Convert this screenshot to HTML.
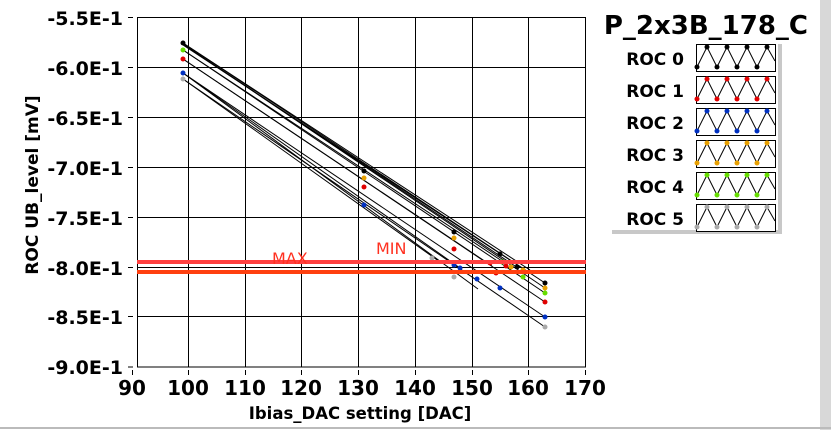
<!DOCTYPE html>
<html><head><meta charset="utf-8"><style>body{margin:0;background:#fff}svg{display:block}</style></head><body>
<svg width="831" height="430" viewBox="0 0 831 430" xmlns="http://www.w3.org/2000/svg" font-family="DejaVu Sans, Liberation Sans, sans-serif">
<rect width="831" height="430" fill="#fff"/>
<rect x="820" y="0" width="11" height="430" fill="#d8d8d8"/>
<line x1="0" y1="428" x2="831" y2="428" stroke="#bbb" stroke-width="2"/>
<g stroke="#000" stroke-width="1">
<line x1="188.5" y1="17" x2="188.5" y2="367"/><line x1="245.5" y1="17" x2="245.5" y2="367"/>
<line x1="301.5" y1="17" x2="301.5" y2="367"/><line x1="358.5" y1="17" x2="358.5" y2="367"/>
<line x1="415.5" y1="17" x2="415.5" y2="367"/><line x1="472.5" y1="17" x2="472.5" y2="367"/>
<line x1="528.5" y1="17" x2="528.5" y2="367"/>
<line x1="137" y1="67.5" x2="586" y2="67.5"/><line x1="137" y1="117.5" x2="586" y2="117.5"/>
<line x1="137" y1="167.5" x2="586" y2="167.5"/><line x1="137" y1="217.5" x2="586" y2="217.5"/>
<line x1="137" y1="267.5" x2="586" y2="267.5"/><line x1="137" y1="316.5" x2="586" y2="316.5"/>
</g>
<rect x="137.5" y="17.5" width="448" height="349.5" fill="none" stroke="#000"/>
<g stroke="#000">
<line x1="128" y1="17.5" x2="133" y2="17.5"/><line x1="128" y1="67.5" x2="133" y2="67.5"/><line x1="128" y1="117.5" x2="133" y2="117.5"/><line x1="128" y1="167.5" x2="133" y2="167.5"/><line x1="128" y1="217.5" x2="133" y2="217.5"/><line x1="128" y1="267.5" x2="133" y2="267.5"/><line x1="128" y1="316.5" x2="133" y2="316.5"/><line x1="128" y1="367" x2="133" y2="367"/>
<line x1="132.5" y1="370" x2="132.5" y2="375"/><line x1="188.5" y1="370" x2="188.5" y2="375"/><line x1="245.5" y1="370" x2="245.5" y2="375"/><line x1="301.5" y1="370" x2="301.5" y2="375"/><line x1="358.5" y1="370" x2="358.5" y2="375"/><line x1="415.5" y1="370" x2="415.5" y2="375"/><line x1="472.5" y1="370" x2="472.5" y2="375"/><line x1="528.5" y1="370" x2="528.5" y2="375"/><line x1="585.5" y1="370" x2="585.5" y2="375"/>
</g>
<g font-size="19" font-weight="bold" text-anchor="end">
<text x="123" y="25">-5.5E-1</text><text x="123" y="75">-6.0E-1</text><text x="123" y="125">-6.5E-1</text><text x="123" y="175">-7.0E-1</text><text x="123" y="225">-7.5E-1</text><text x="123" y="275">-8.0E-1</text><text x="123" y="324">-8.5E-1</text><text x="123" y="374">-9.0E-1</text>
</g>
<g font-size="20" font-weight="bold" text-anchor="middle">
<text x="132" y="395">90</text><text x="188" y="395">100</text><text x="245" y="395">110</text><text x="301" y="395">120</text><text x="358" y="395">130</text><text x="415" y="395">140</text><text x="472" y="395">150</text><text x="528" y="395">160</text><text x="585" y="395">170</text>
</g>
<text x="360" y="419" font-size="16.5" font-weight="bold" text-anchor="middle">Ibias_DAC setting [DAC]</text>
<text transform="translate(38,185) rotate(-90)" font-size="17" font-weight="bold" text-anchor="middle">ROC UB_level [mV]</text>
<g stroke="#000" stroke-width="1">
<line x1="183" y1="43" x2="545" y2="283"/><line x1="183" y1="44" x2="545" y2="288"/>
<line x1="183" y1="50" x2="545" y2="293"/><line x1="183" y1="59" x2="545" y2="302"/>
<line x1="183" y1="73" x2="545" y2="317"/><line x1="183" y1="79" x2="545" y2="327"/>
<line x1="183" y1="43" x2="530" y2="270"/><line x1="183" y1="45" x2="522" y2="268"/>
<line x1="183" y1="50" x2="505" y2="263"/><line x1="183" y1="59" x2="492" y2="266"/>
<line x1="183" y1="73" x2="478" y2="289"/><line x1="183" y1="73" x2="460" y2="268"/>
<line x1="183" y1="79" x2="440" y2="262"/><line x1="183" y1="44" x2="515" y2="266"/>
</g>
<g>
<circle cx="183" cy="43" r="2.5" fill="#000"/>
<circle cx="183" cy="50" r="2.5" fill="#66dd00"/><circle cx="183" cy="59" r="2.5" fill="#e00000"/>
<circle cx="183" cy="73" r="2.5" fill="#0030c0"/><circle cx="183" cy="79" r="2.5" fill="#aaa"/>
<circle cx="364" cy="171" r="2.5" fill="#000"/><circle cx="364" cy="178" r="2.5" fill="#e8a000"/>
<circle cx="364" cy="187" r="2.5" fill="#e00000"/><circle cx="364" cy="205" r="2.5" fill="#0030c0"/>
<circle cx="454" cy="232" r="2.5" fill="#000"/><circle cx="454" cy="238" r="2.5" fill="#e8a000"/>
<circle cx="454" cy="249" r="2.5" fill="#e00000"/><circle cx="454" cy="265" r="2.5" fill="#0030c0"/>
<circle cx="454" cy="277" r="2.5" fill="#aaa"/><circle cx="432" cy="258" r="2.5" fill="#aaa"/>
<circle cx="460" cy="268" r="2.5" fill="#0030c0"/><circle cx="477" cy="279" r="2.5" fill="#0030c0"/>
<circle cx="500" cy="288" r="2.5" fill="#0030c0"/><circle cx="490" cy="263" r="2.5" fill="#e00000"/>
<circle cx="500" cy="254" r="2.5" fill="#000"/><circle cx="506" cy="266" r="2.5" fill="#e00000"/>
<circle cx="502" cy="262" r="2.5" fill="#66dd00"/><circle cx="511" cy="267" r="2.5" fill="#e8a000"/>
<circle cx="517" cy="267" r="2.5" fill="#000"/><circle cx="523" cy="270" r="2.5" fill="#e8a000"/>
<circle cx="523" cy="277" r="2.5" fill="#66dd00"/><circle cx="496" cy="273" r="2.5" fill="#e00000"/>
<circle cx="545" cy="283" r="2.5" fill="#000"/><circle cx="545" cy="288" r="2.5" fill="#e8a000"/>
<circle cx="545" cy="293" r="2.5" fill="#66dd00"/><circle cx="545" cy="302" r="2.5" fill="#e00000"/>
<circle cx="545" cy="317" r="2.5" fill="#0030c0"/><circle cx="545" cy="327" r="2.5" fill="#aaa"/>
</g>
<rect x="137" y="260" width="449" height="4" fill="#ff4040"/>
<rect x="137" y="270" width="449" height="4" fill="#ff4010"/>
<text x="272" y="264" font-size="16" fill="#ff3020">MAX</text>
<text x="376" y="254" font-size="16" fill="#ff3020">MIN</text>
<text x="808" y="34" font-size="26" font-weight="bold" text-anchor="end">P_2x3B_178_C</text>
<rect x="612" y="44" width="170" height="190" fill="#c8c8c8"/>
<rect x="608" y="40" width="170" height="190" fill="#fff"/>
<g font-size="17" font-weight="bold" text-anchor="end">
<text x="684" y="65">ROC 0</text><text x="684" y="97">ROC 1</text><text x="684" y="129">ROC 2</text><text x="684" y="161">ROC 3</text><text x="684" y="193">ROC 4</text><text x="684" y="225">ROC 5</text>
</g>
<g stroke="#000" fill="#fff">
<rect x="696.5" y="44.5" width="79" height="27"/><rect x="696.5" y="76.5" width="79" height="27"/><rect x="696.5" y="108.5" width="79" height="27"/><rect x="696.5" y="140.5" width="79" height="27"/><rect x="696.5" y="172.5" width="79" height="27"/><rect x="696.5" y="204.5" width="79" height="27"/>
</g>
<defs><polyline id="zz" points="0,22 10,2 20,22 30,2 40,22 50,2 60,22 70,2 78,16" fill="none" stroke="#000"/></defs>
<g>
<g transform="translate(697,45)"><use href="#zz"/><g fill="#000"><circle cx="0" cy="22" r="2.5"/><circle cx="10" cy="2" r="2.5"/><circle cx="20" cy="22" r="2.5"/><circle cx="30" cy="2" r="2.5"/><circle cx="40" cy="22" r="2.5"/><circle cx="50" cy="2" r="2.5"/><circle cx="60" cy="22" r="2.5"/><circle cx="70" cy="2" r="2.5"/></g></g>
<g transform="translate(697,77)"><use href="#zz"/><g fill="#e00000"><circle cx="0" cy="22" r="2.5"/><circle cx="10" cy="2" r="2.5"/><circle cx="20" cy="22" r="2.5"/><circle cx="30" cy="2" r="2.5"/><circle cx="40" cy="22" r="2.5"/><circle cx="50" cy="2" r="2.5"/><circle cx="60" cy="22" r="2.5"/><circle cx="70" cy="2" r="2.5"/></g></g>
<g transform="translate(697,109)"><use href="#zz"/><g fill="#0030c0"><circle cx="0" cy="22" r="2.5"/><circle cx="10" cy="2" r="2.5"/><circle cx="20" cy="22" r="2.5"/><circle cx="30" cy="2" r="2.5"/><circle cx="40" cy="22" r="2.5"/><circle cx="50" cy="2" r="2.5"/><circle cx="60" cy="22" r="2.5"/><circle cx="70" cy="2" r="2.5"/></g></g>
<g transform="translate(697,141)"><use href="#zz"/><g fill="#e8a000"><circle cx="0" cy="22" r="2.5"/><circle cx="10" cy="2" r="2.5"/><circle cx="20" cy="22" r="2.5"/><circle cx="30" cy="2" r="2.5"/><circle cx="40" cy="22" r="2.5"/><circle cx="50" cy="2" r="2.5"/><circle cx="60" cy="22" r="2.5"/><circle cx="70" cy="2" r="2.5"/></g></g>
<g transform="translate(697,173)"><use href="#zz"/><g fill="#66dd00"><circle cx="0" cy="22" r="2.5"/><circle cx="10" cy="2" r="2.5"/><circle cx="20" cy="22" r="2.5"/><circle cx="30" cy="2" r="2.5"/><circle cx="40" cy="22" r="2.5"/><circle cx="50" cy="2" r="2.5"/><circle cx="60" cy="22" r="2.5"/><circle cx="70" cy="2" r="2.5"/></g></g>
<g transform="translate(697,205)"><use href="#zz"/><g fill="#aaa"><circle cx="0" cy="22" r="2.5"/><circle cx="10" cy="2" r="2.5"/><circle cx="20" cy="22" r="2.5"/><circle cx="30" cy="2" r="2.5"/><circle cx="40" cy="22" r="2.5"/><circle cx="50" cy="2" r="2.5"/><circle cx="60" cy="22" r="2.5"/><circle cx="70" cy="2" r="2.5"/></g></g>
</g>
</svg>
</body></html>
